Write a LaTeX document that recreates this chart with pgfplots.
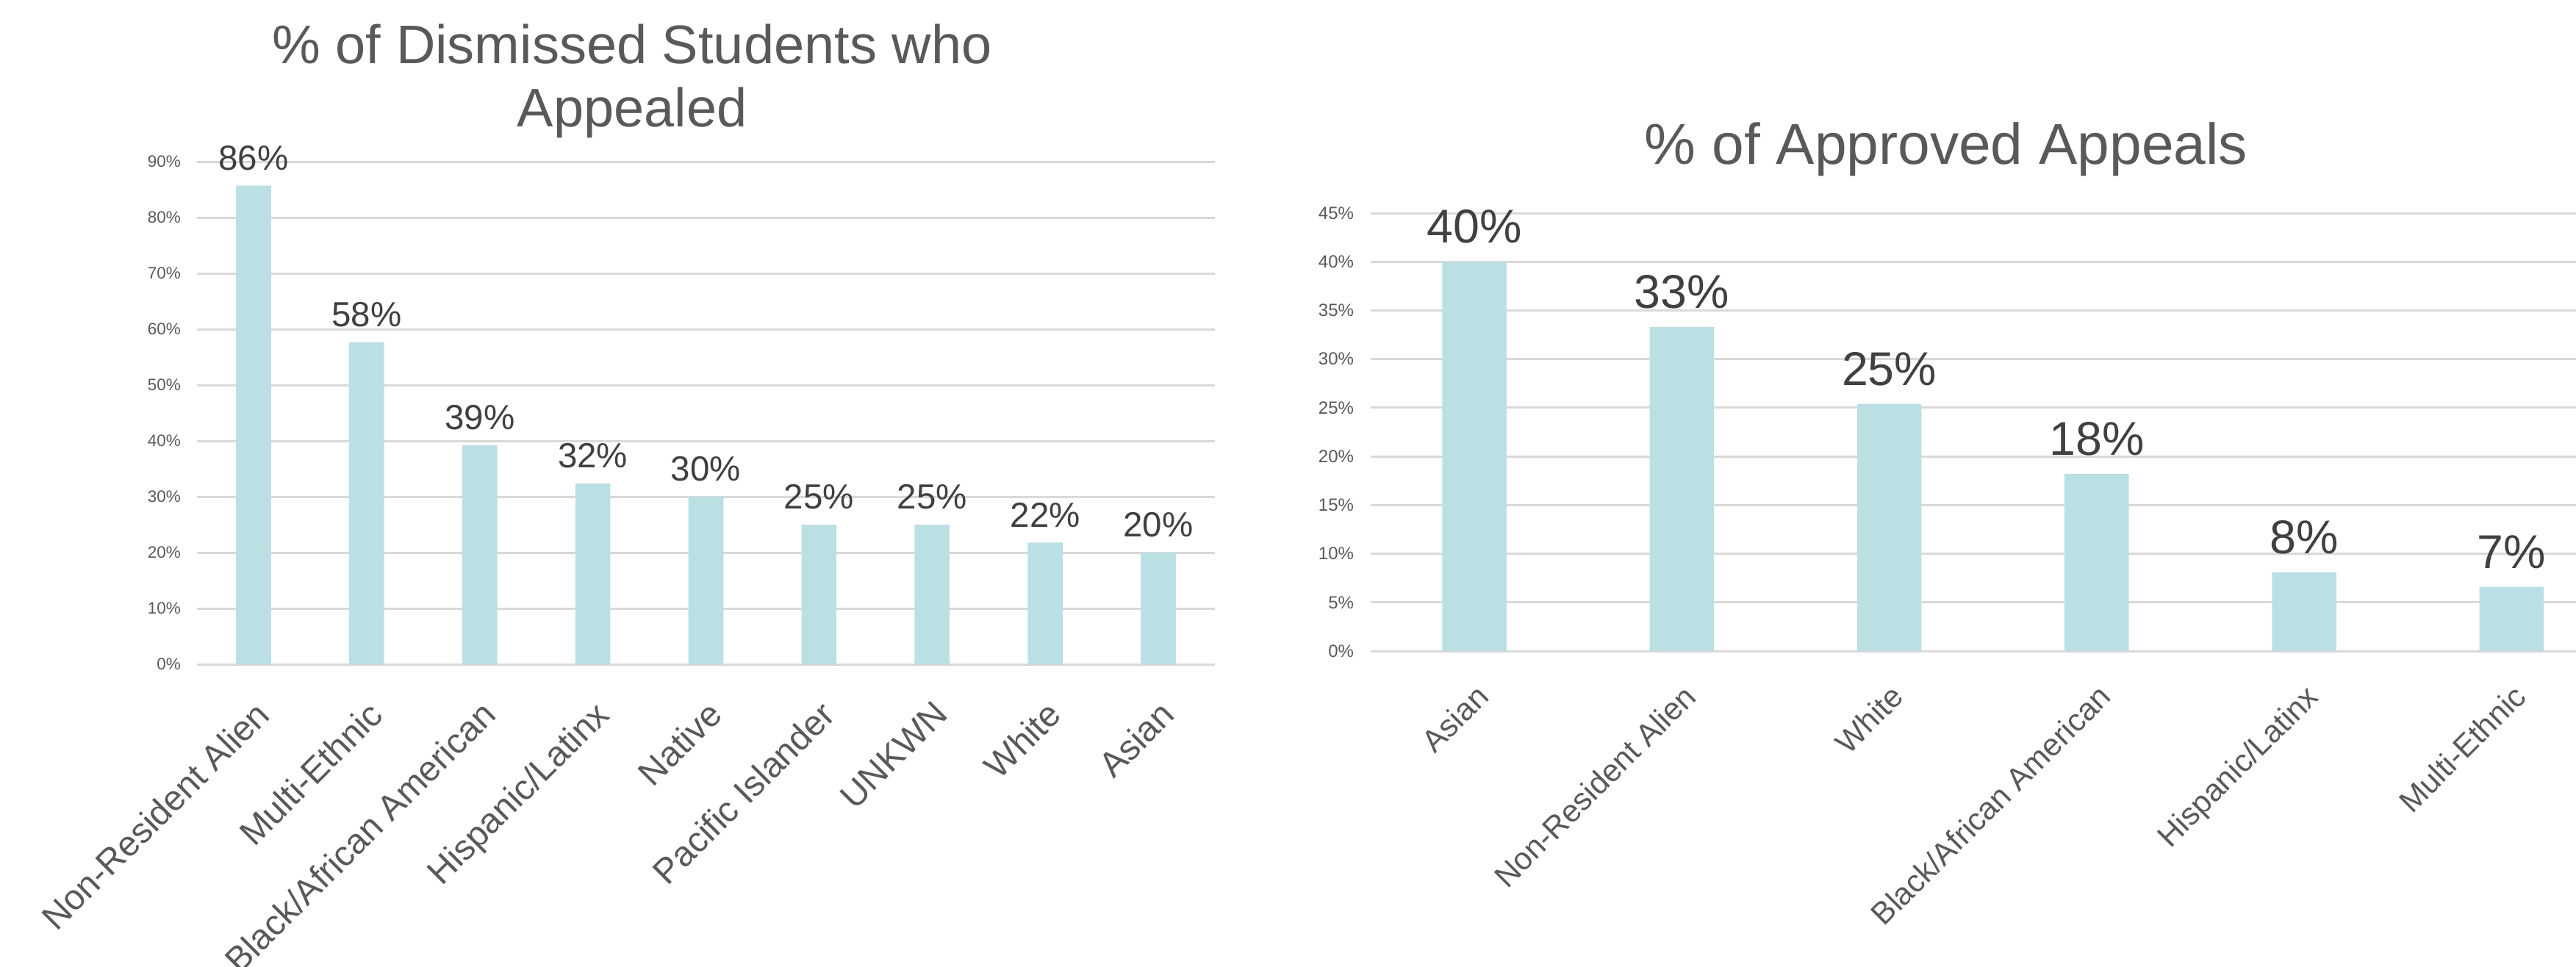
\documentclass[border=0pt]{standalone}
\usepackage{fontspec}
\setmainfont{Liberation Sans}
\usepackage{pgfplots}
\pgfplotsset{compat=1.18}
\definecolor{barc}{HTML}{BAE0E3}
\definecolor{gridc}{HTML}{D9D9D9}
\definecolor{titlec}{HTML}{595959}
\definecolor{labc}{HTML}{404040}
\begin{document}
\begin{tikzpicture}
\useasboundingbox (0,0) rectangle (701pt,-263pt);
\pgfplotsset{
  mybar/.style={
    ybar, scale only axis, axis line style={draw=none}, major tick length=0pt,
    ymajorgrids, grid style={gridc, line width=0.6pt},
    xtick=data, xmin=-0.5, ymin=0,
    bar width=0.31,
    /pgf/number format/assume math mode=true,
    yticklabel style={text=titlec, anchor=east, inner sep=0pt},
    xticklabel style={rotate=45, anchor=north east, inner sep=0pt, text=titlec},
    nodes near coords={\pgfmathprintnumber[fixed,precision=0]{\pgfplotspointmeta}\%},
    every node near coord/.append style={text=labc, inner sep=0pt, anchor=south},
    clip=false,
  }
}
\begin{axis}[mybar,
  at={(53.6pt,-180.8pt)}, anchor=south west,
  width=277pt, height=136.8pt,
  xmax=8.5, ymax=90,
  ytick={0,10,20,30,40,50,60,70,80,90},
  yticklabels={0\%,10\%,20\%,30\%,40\%,50\%,60\%,70\%,80\%,90\%},
  yticklabel style={font=\fontsize{4.5}{5}\selectfont},
  yticklabel shift=4.2pt,
  xticklabels={Non-Resident Alien,Multi-Ethnic,Black/African American,Hispanic/Latinx,Native,Pacific Islander,UNKWN,White,Asian},
  xticklabel style={font=\fontsize{9.6}{10}\selectfont},
  xticklabel shift=9.2pt,
  every node near coord/.append style={font=\fontsize{9.5}{10}\selectfont, yshift=4pt},
]
\addplot[fill=barc, draw=none] coordinates {(0,85.7) (1,57.7) (2,39.2) (3,32.4) (4,30.0) (5,25.0) (6,25.0) (7,21.8) (8,20.0)};
\end{axis}
\begin{axis}[mybar,
  at={(373pt,-177.2pt)}, anchor=south west,
  width=328pt, height=119.2pt,
  xmax=5.311, ymax=45,
  ytick={0,5,10,15,20,25,30,35,40,45},
  yticklabels={0\%,5\%,10\%,15\%,20\%,25\%,30\%,35\%,40\%,45\%},
  yticklabel style={font=\fontsize{4.8}{5}\selectfont},
  yticklabel shift=4.4pt,
  xticklabels={Asian,Non-Resident Alien,White,Black/African American,Hispanic/Latinx,Multi-Ethnic},
  xticklabel style={font=\fontsize{8.5}{10}\selectfont},
  xticklabel shift=8.4pt,
  every node near coord/.append style={font=\fontsize{12.9}{14}\selectfont, yshift=4.8pt},
]
\addplot[fill=barc, draw=none] coordinates {(0,40.0) (1,33.3) (2,25.4) (3,18.2) (4,8.1) (5,6.6)};
\end{axis}
\node[anchor=base, text=titlec, font=\fontsize{14.8}{17}\selectfont] at (172pt,-17.2pt) {\% of Dismissed Students who};
\node[anchor=base, text=titlec, font=\fontsize{14.8}{17}\selectfont] at (172pt,-34.4pt) {Appealed};
\node[anchor=base, text=titlec, font=\fontsize{15.7}{18}\selectfont] at (529.6pt,-44.6pt) {\% of Approved Appeals};
\end{tikzpicture}
\end{document}
